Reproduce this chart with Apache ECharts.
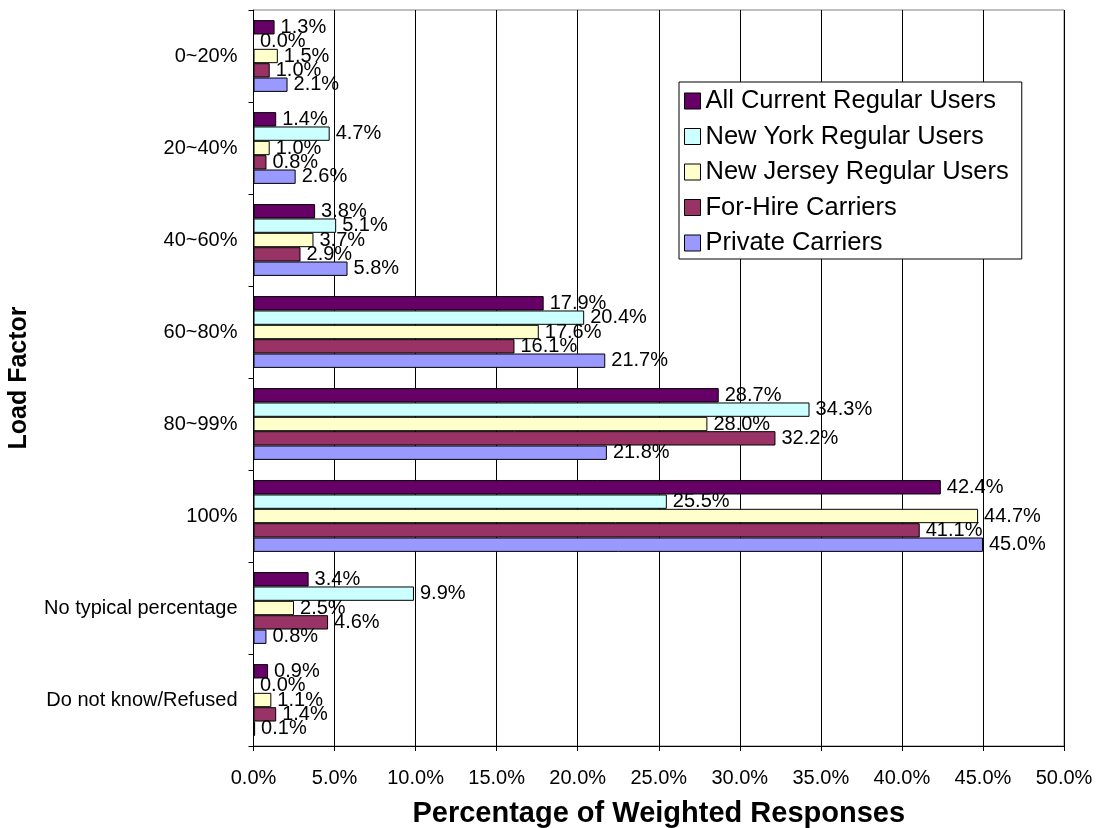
<!DOCTYPE html>
<html>
<head>
<meta charset="utf-8">
<script src="https://cdn.jsdelivr.net/npm/echarts@6/dist/echarts.min.js"></script>
<style>html,body{margin:0;padding:0;background:#fff;}#c{width:1097px;height:828px;}</style>
</head>
<body>
<div id="c"></div>
<script>
var categories = ['0~20%', '20~40%', '40~60%', '60~80%', '80~99%', '100%', 'No typical percentage', 'Do not know/Refused'];
var seriesNames = ['All Current Regular Users', 'New York Regular Users', 'New Jersey Regular Users', 'For-Hire Carriers', 'Private Carriers'];
var allCurrent = [1.3, 1.4, 3.8, 17.9, 28.7, 42.4, 3.4, 0.9];
var newYork    = [0.0, 4.7, 5.1, 20.4, 34.3, 25.5, 9.9, 0.0];
var newJersey  = [1.5, 1.0, 3.7, 17.6, 28.0, 44.7, 2.5, 1.1];
var forHire    = [1.0, 0.8, 2.9, 16.1, 32.2, 41.1, 4.6, 1.4];
var privateC   = [2.1, 2.6, 5.8, 21.7, 21.8, 45.0, 0.8, 0.1];
var xTicks = [0, 5, 10, 15, 20, 25, 30, 35, 40, 45, 50];

var colors = ['#660066', '#CCFFFF', '#FFFFCC', '#993366', '#9999FF'];
var dataSets = [allCurrent, newYork, newJersey, forHire, privateC];
var FONT = "'Liberation Sans', Arial, sans-serif";

var series = seriesNames.map(function (name, i) {
  return {
    name: name,
    type: 'bar',
    data: dataSets[i],
    barGap: '0%',
    barCategoryGap: '22%',
    itemStyle: { color: colors[i], borderColor: '#000', borderWidth: 1 },
    label: {
      show: true, position: 'right', distance: 6,
      color: '#000', fontFamily: FONT, fontSize: 20,
      formatter: function (p) { return p.value.toFixed(1) + '%'; }
    },
    emphasis: { disabled: true },
    animation: false
  };
});

var chart = echarts.init(document.getElementById('c'), null, { renderer: 'canvas' });
chart.setOption({
  backgroundColor: '#fff',
  animation: false,
  textStyle: { fontFamily: FONT },
  grid: {
    left: 253.5, right: 33, top: 10, bottom: 82,
    show: true, borderColor: '#808080', borderWidth: 1,
    containLabel: false, outerBoundsMode: 'none'
  },
  legend: {
    data: seriesNames,
    orient: 'vertical',
    left: 679, top: 82,
    padding: [6, 13, 3, 5],
    itemGap: 9.5,
    itemWidth: 16, itemHeight: 16,
    icon: 'rect',
    borderColor: '#000', borderWidth: 1,
    backgroundColor: '#fff',
    itemStyle: { borderColor: '#000', borderWidth: 1 },
    textStyle: { fontFamily: FONT, fontSize: 25.5, color: '#000', lineHeight: 26 }
  },
  xAxis: {
    type: 'value', min: 0, max: 50, interval: 5,
    name: 'Percentage of Weighted Responses',
    nameLocation: 'middle', nameGap: 53,
    nameTextStyle: { fontFamily: FONT, fontSize: 29, fontWeight: 'bold', color: '#000' },
    axisLine: { show: true, lineStyle: { color: '#000', width: 1 } },
    axisTick: { show: true, length: 5, lineStyle: { color: '#000' } },
    splitLine: { show: true, lineStyle: { color: '#000', width: 1 } },
    axisLabel: {
      margin: 22, color: '#000', fontFamily: FONT, fontSize: 20,
      formatter: function (v) { return v.toFixed(1) + '%'; }
    }
  },
  yAxis: {
    type: 'category', data: categories, inverse: true,
    name: 'Load Factor',
    nameLocation: 'middle', nameRotate: 90, nameGap: 222,
    nameTextStyle: { fontFamily: FONT, fontSize: 25, fontWeight: 'bold', color: '#000' },
    axisLine: { show: true, lineStyle: { color: '#000', width: 1 } },
    axisTick: { show: true, length: 5, lineStyle: { color: '#000' } },
    axisLabel: { margin: 16, color: '#000', fontFamily: FONT, fontSize: 20 }
  },
  series: series
});
</script>
</body>
</html>
